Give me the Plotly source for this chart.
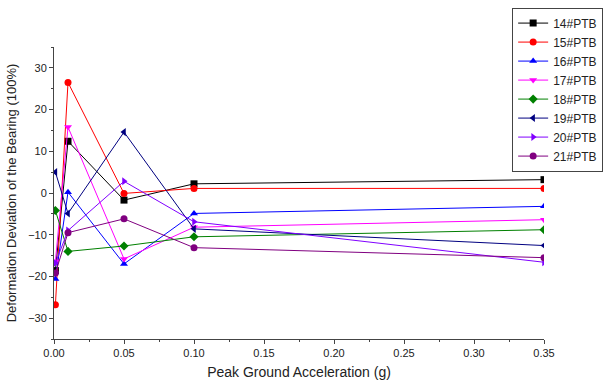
import plotly.graph_objects as go

pga = [0.001, 0.01, 0.05, 0.10, 0.35]
series_names = ["14#PTB", "15#PTB", "16#PTB", "17#PTB", "18#PTB", "19#PTB", "20#PTB", "21#PTB"]
s14 = [-18.6, 12.4, -1.7, 2.2, 3.2]
s15 = [-26.8, 26.5, -0.1, 1.1, 1.1]
s16 = [-20.6, 0.2, -17.0, -4.9, -3.2]
s17 = [-16.4, 15.8, -15.8, -8.2, -6.4]
s18 = [-4.2, -14.0, -12.7, -10.5, -8.8]
s19 = [5.0, -4.9, 14.6, -8.6, -12.6]
s20 = [-16.8, -9.0, 2.8, -6.9, -16.6]
s21 = [-19.2, -9.5, -6.2, -13.1, -15.5]
values = [s14, s15, s16, s17, s18, s19, s20, s21]

colors = ["#000000", "#ff0000", "#0000ff", "#ff00ff", "#008000", "#000080", "#8000ff", "#800080"]
symbols = ["square", "circle", "triangle-up", "triangle-down", "diamond", "triangle-left", "triangle-right", "circle"]

fig = go.Figure()
for name, vals, c, s in zip(series_names, values, colors, symbols):
    fig.add_trace(go.Scatter(
        x=pga, y=vals, name=name, mode="lines+markers",
        line=dict(color=c, width=1),
        marker=dict(color=c, symbol=s, size=7),
    ))

axis_font = dict(family="Liberation Sans, Arial, sans-serif", size=11, color="#222")
fig.update_layout(
    width=607, height=385,
    margin=dict(l=54, r=63, t=47, b=46, autoexpand=False),
    paper_bgcolor="white", plot_bgcolor="white",
    font=dict(family="Liberation Sans, Arial, sans-serif", size=12, color="#222"),
    showlegend=True,
    legend=dict(
        x=0.935, y=1.135, xanchor="left", yanchor="top",
        bordercolor="#444", borderwidth=1, bgcolor="white",
        font=dict(size=12, color="#222"),
        tracegroupgap=0, itemwidth=30,
    ),
    xaxis=dict(
        title=dict(text="Peak Ground Acceleration (g)", font=dict(size=14), standoff=8),
        range=[0, 0.35], tickmode="linear", tick0=0, dtick=0.05, tickformat=".2f",
        ticks="outside", ticklen=4, tickcolor="#444", tickfont=axis_font,
        showline=True, linecolor="#444", linewidth=1, showgrid=False, zeroline=False,
        minor=dict(dtick=0.025, ticks="outside", ticklen=2, tickcolor="#444"),
    ),
    yaxis=dict(
        title=dict(text="Deformation Deviation of the Bearing (100%)", font=dict(size=13), standoff=8),
        range=[-35, 35], tickmode="linear", tick0=-30, dtick=10,
        ticks="outside", ticklen=4, tickcolor="#444", tickfont=axis_font,
        showline=True, linecolor="#444", linewidth=1, showgrid=False, zeroline=False,
        minor=dict(dtick=5, ticks="outside", ticklen=2, tickcolor="#444"),
    ),
)

fig.write_html("out.html")
